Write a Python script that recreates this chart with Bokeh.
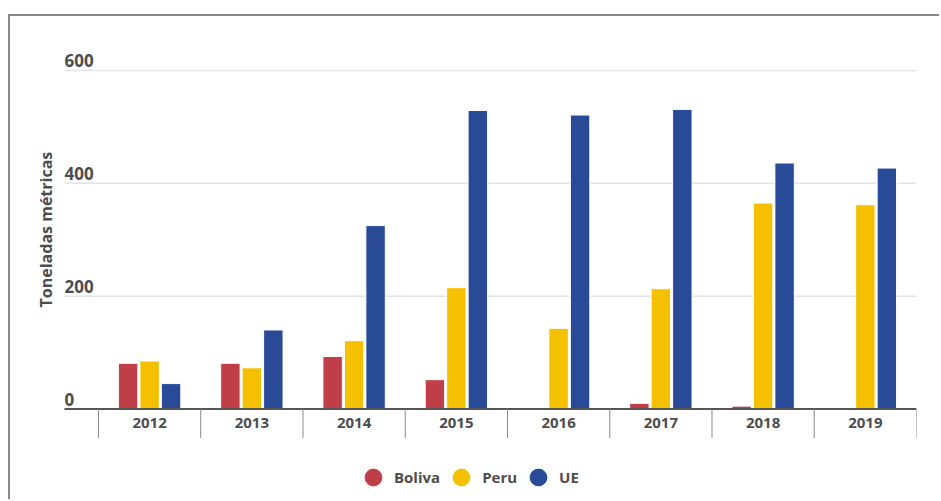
import numpy as np
from bokeh.plotting import figure
from bokeh.models import Range1d, Legend, LegendItem
from bokeh.core.properties import value
from bokeh.embed import file_html
from bokeh.resources import INLINE

years = ["2012", "2013", "2014", "2015", "2016", "2017", "2018", "2019"]
bolivia = [81, 81, 93, 52, 0, 10, 5, 0]
peru = [85, 73, 121, 215, 143, 213, 365, 362]
ue = [45, 140, 325, 529, 521, 531, 436, 427]
series_names = ["Boliva", "Peru", "UE"]
series_colors = ["#c03e48", "#f4c000", "#284a97"]
y_ticks = [0, 200, 400, 600]
y_labels = ["0", "200", "400", "600"]
y_title = "Toneladas métricas"

FONT = "Open Sans"
TXT = "#4d4d4d"
x_start = -1.243     # left edge of the drawing frame
x_grid0 = -0.8325    # where gridlines / baseline begin
x_end = 7.5
y_bottom, y_top = -164, 635.4
PX = 0.5642          # pixels per unit (for offsets expressed in data units)

p = figure(width=931, height=485, x_range=Range1d(x_start, x_end),
           y_range=Range1d(y_bottom, y_top),
           output_backend="svg", toolbar_location=None,
           min_border_left=12, min_border_right=25, min_border_top=34, min_border_bottom=0)
p.styles = {"margin-left": "8px", "margin-top": "14px",
            "border-left": "2px solid #8a8a8a", "border-top": "2px solid #8a8a8a"}
p.outline_line_color = None
p.background_fill_color = "white"
p.xgrid.grid_line_color = None
p.ygrid.grid_line_color = None
p.xaxis.visible = False
p.yaxis.visible = False

# gridlines
gy = y_ticks[1:]
p.segment(x0=[x_grid0] * len(gy), x1=[x_end] * len(gy), y0=gy, y1=gy,
          line_color="#e4e4e4", line_width=1.5)

idx = np.arange(len(years))
for vals, off, col in zip([bolivia, peru, ue], [-0.21, 0.0, 0.21], series_colors):
    p.vbar(x=idx + off, top=vals, width=0.19, fill_color=col, line_color="white", line_width=1)

# baseline
p.segment(x0=[x_grid0], x1=[x_end], y0=[0], y1=[0], line_color="#555555", line_width=2)

# category separators
sep = np.arange(len(years) + 1) - 0.5
p.segment(x0=sep, x1=sep, y0=[0] * len(sep), y1=[-29 / PX] * len(sep),
          line_color="#8a8a8a", line_width=1)

# year labels
p.text(x=idx, y=[-14.5 / PX] * len(years), text=years, text_align="center",
       text_baseline="middle", text_font=value(FONT), text_font_size="15px",
       text_font_style="bold", text_color=TXT)

# y tick labels above gridlines
p.text(x=[x_grid0] * len(y_ticks), y=y_ticks, text=y_labels, text_align="left",
       text_baseline="bottom", y_offset=-3, text_font=value(FONT),
       text_font_size="17px", text_font_style="bold", text_color=TXT)

# y title
p.text(x=[-1.018], y=[318], text=[y_title], angle=np.pi / 2, text_align="center",
       text_baseline="middle", text_font=value(FONT), text_font_size="16px",
       text_font_style="bold", text_color=TXT)

items = []
for name, col in zip(series_names, series_colors):
    r = p.scatter(x=idx, y=np.full(len(years), np.nan), marker="circle", size=17,
                  fill_color=col, line_color=col)
    items.append(LegendItem(label=name, renderers=[r]))
legend = Legend(items=items, orientation="horizontal", location=(330, 3),
                border_line_color=None, background_fill_alpha=0, padding=0, margin=0,
                spacing=-9, label_standoff=0, glyph_width=42, glyph_height=42,
                label_text_font=FONT, label_text_font_size="15px",
                label_text_font_style="bold", label_text_color=TXT)
p.add_layout(legend)

open("out.html", "w").write(file_html(p, INLINE))
